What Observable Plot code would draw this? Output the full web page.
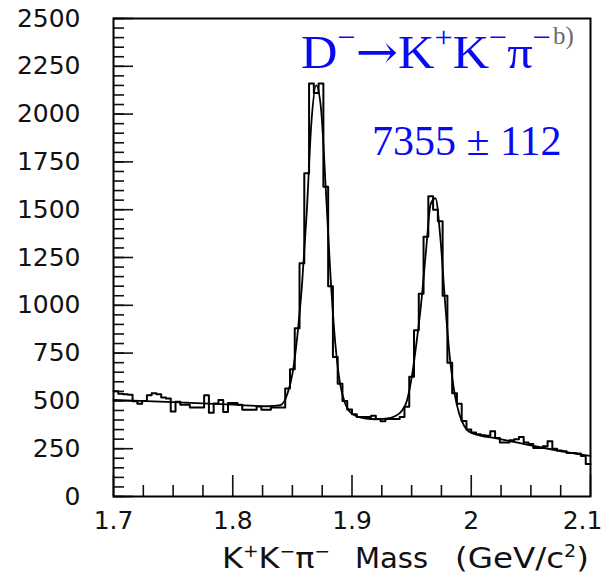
<!DOCTYPE html>
<html>
<head>
<meta charset="utf-8">
<script src="https://cdn.jsdelivr.net/npm/d3@7"></script>
<script src="https://cdn.jsdelivr.net/npm/@observablehq/plot@0.6"></script>
<style>
  html, body { margin: 0; padding: 0; background: #fff; }
</style>
</head>
<body>
<div id="chart"></div>
<script>
// ---- data ----
const massMin = 1.7;
const massMax = 2.1;
const binWidth = 0.004;

// histogram contents, 100 bins of 4 MeV from 1.700 to 2.100 GeV
const counts = [
  550, 538, 535, 532, 498, 485, 500, 530, 540, 535,
  518, 512, 445, 495, 480, 480, 466, 466, 466, 530,
  438, 487, 505, 442, 489, 489, 480, 454, 454, 454,
  471, 454, 454, 466, 466, 466, 565, 665, 880, 1220,
  1690, 2160, 2110, 2160, 1620, 1100, 730, 590, 500, 455,
  430, 416, 416, 416, 422, 405, 393, 405, 405, 405,
  416, 470, 626, 870, 1060, 1358, 1570, 1500, 1440, 1050,
  700, 540, 485, 395, 350, 335, 325, 320, 318, 341,
  306, 283, 283, 294, 300, 311, 283, 275, 254, 254,
  263, 289, 250, 240, 237, 228, 228, 225, 212, 170
];

// fitted curve, read at selected masses
const fitMass = [
  1.700, 1.750, 1.800, 1.830, 1.840, 1.846, 1.850, 1.854, 1.858, 1.862,
  1.866, 1.870, 1.874, 1.878, 1.882, 1.886, 1.890, 1.894, 1.898, 1.904,
  1.912, 1.920, 1.928, 1.936, 1.942, 1.946, 1.950, 1.954, 1.958, 1.962,
  1.966, 1.970, 1.974, 1.978, 1.982, 1.986, 1.990, 1.994, 1.998, 2.004,
  2.020, 2.040, 2.060, 2.080, 2.100
];
const fitCounts = [
  505, 494, 480, 472, 478, 540, 640, 830, 1100, 1480,
  1960, 2150, 2030, 1610, 1150, 800, 590, 490, 445, 420,
  408, 404, 407, 420, 450, 500, 620, 800, 1010, 1280,
  1530, 1560, 1360, 1020, 730, 540, 430, 370, 340, 325,
  305, 280, 255, 232, 212
];

// axis ticks
const xMajorTicks = [1.7, 1.8, 1.9, 2.0, 2.1];
const xTickLabels = ["1.7", "1.8", "1.9", "2", "2.1"];
const xMinorTicks = [1.725, 1.75, 1.775, 1.825, 1.85, 1.875, 1.925, 1.95, 1.975, 2.025, 2.05, 2.075];
const yMajorTicks = [0, 250, 500, 750, 1000, 1250, 1500, 1750, 2000, 2250, 2500];
const yMinorTicks = d3.range(0, 2501, 50);

// ---- build tables ----
const histSteps = counts.map((c, i) => ({x: massMin + i * binWidth, y: c}));
histSteps.push({x: massMax, y: counts[counts.length - 1]});
const fit = fitMass.map((m, i) => ({x: m, y: fitCounts[i]}));

const INK = "#111";
const chart = Plot.plot({
  width: 607,
  height: 583,
  marginLeft: 113,
  marginRight: 17,
  marginTop: 18,
  marginBottom: 87,
  style: {fontFamily: "DejaVu Sans", fontSize: "25px", color: INK, background: "#fff", overflow: "visible"},
  x: {domain: [massMin, massMax]},
  y: {domain: [0, 2500]},
  marks: [
    // y tick labels and inward ticks
    Plot.axisY({ticks: yMajorTicks, tickSize: 0, tickPadding: 33, label: null, fontSize: 25,
      tickFormat: d => String(d)}),
    Plot.axisY({ticks: yMajorTicks, tickSize: -20, tickFormat: () => "", label: null, strokeWidth: 1.6}),
    Plot.axisY({ticks: yMinorTicks, tickSize: -11, tickFormat: () => "", label: null, strokeWidth: 1.6}),
    // x tick labels and inward ticks
    Plot.axisX({ticks: xMajorTicks, tickSize: 0, tickPadding: 15, label: null, fontSize: 25,
      tickFormat: d => xTickLabels[xMajorTicks.indexOf(d)]}),
    Plot.axisX({ticks: xMajorTicks, tickSize: -21, tickFormat: () => "", label: null, strokeWidth: 1.6}),
    Plot.axisX({ticks: xMinorTicks, tickSize: -11, tickFormat: () => "", label: null, strokeWidth: 1.6}),
    // histogram and fit
    Plot.line(histSteps, {x: "x", y: "y", curve: "step-after", stroke: "black", strokeWidth: 2}),
    Plot.line(fit, {x: "x", y: "y", curve: "monotone-x", stroke: "black", strokeWidth: 1.8}),
    Plot.frame({stroke: "black", strokeWidth: 2})
  ]
});

// ---- annotations (text with super-scripts) ----
const svg = d3.select(chart);

// keep the last x label inside the picture, as in the reference
svg.selectAll("text").filter(function () { return this.textContent === "2.1"; })
  .attr("transform", function () { return (this.getAttribute("transform") || "") + " translate(-8,0)"; });

function richText(parent, x, y, pieces, opts) {
  const t = parent.append("text")
    .attr("x", x).attr("y", y)
    .attr("fill", opts.fill)
    .attr("text-anchor", opts.anchor || "start")
    .style("font-family", opts.family)
    .style("font-size", opts.size + "px");
  if (opts.length) t.attr("textLength", opts.length).attr("lengthAdjust", "spacingAndGlyphs");
  let raised = false;
  for (const p of pieces) {
    const ts = t.append("tspan").text(p.t);
    if (p.sup && !raised) { ts.attr("dy", -opts.supShift); raised = true; }
    else if (!p.sup && raised) { ts.attr("dy", opts.supShift); raised = false; }
    if (p.sup) ts.style("font-size", opts.supSize + "px");
    if (p.family) ts.style("font-family", p.family);
  }
  return t;
}

const BLUE = "#0a0af2";
richText(svg, 301, 68, [
  {t: "D"}, {t: "\u2212", sup: true}, {t: "\u2192", family: "DejaVu Serif"}, {t: "K"}, {t: "+", sup: true},
  {t: "K"}, {t: "\u2212", sup: true}, {t: "\u03c0"}, {t: "\u2212", sup: true}
], {fill: BLUE, family: "Liberation Serif", size: 47, supSize: 30, supShift: 21, length: 250});

richText(svg, 553, 44, [{t: "b)"}],
  {fill: "#6a6a6a", family: "Liberation Serif", size: 25});

richText(svg, 372, 155, [{t: "7355 \u00b1 112"}],
  {fill: BLUE, family: "Liberation Serif", size: 42});

// x axis title
const axOpts = {fill: INK, family: "DejaVu Sans", size: 29, supSize: 17, supShift: 11};
richText(svg, 222, 568, [
  {t: "K"}, {t: "+", sup: true}, {t: "K"}, {t: "\u2212", sup: true}, {t: "\u03c0"}, {t: "\u2212", sup: true}
], Object.assign({length: 108}, axOpts));
richText(svg, 355, 568, [{t: "Mass"}], axOpts);
richText(svg, 455, 568, [{t: "(GeV/c"}, {t: "2", sup: true}, {t: ")"}], Object.assign({length: 134}, axOpts));

document.getElementById("chart").appendChild(chart);
</script>
</body>
</html>
